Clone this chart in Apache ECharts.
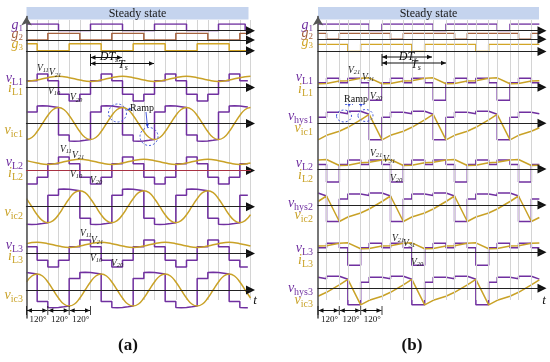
<!DOCTYPE html>
<html><head><meta charset="utf-8">
<script src="https://cdn.jsdelivr.net/npm/echarts@6/dist/echarts.min.js"></script>
<style>html,body{margin:0;padding:0;background:#fff}#c{width:550px;height:362px}</style>
</head><body><div id="c"></div>
<script>
// ---------- time bases (electrical degrees) ----------
const T30=[0,30,60,90,120,150,180,210,240,270,300,330,360,390,420,450,480,510,540,570,600,630,660,690,720,750,780,810,840,870,900,930,960,990,1020,1050,1080,1110,1140,1170,1200,1230,1260];
const T60=[0,60,120,180,240,300,360,420,480,540,600,660,720,780,840,900,960,1020,1080,1140,1200,1260];

// ---------- panel (a) ----------
const aG1=[[0,1],[180,0],[360,1],[540,0],[720,1],[900,0],[1080,1],[1230,0],[1245,0]];
const aG2=[[0,0],[120,1],[300,0],[480,1],[660,0],[840,1],[1020,0],[1200,1],[1245,1]];
const aG3=[[0,1],[60,0],[240,1],[420,0],[600,1],[780,0],[960,1],[1140,0],[1245,0]];
const aVL1=[[0,1],[60,2],[120,1],[180,-1],[240,-2],[300,-1],[360,1],[420,2],[480,1],[540,-1],[600,-2],[660,-1],[720,1],[780,2],[840,1],[900,-1],[960,-2],[1020,-1],[1080,1],[1140,2],[1200,1],[1245,1]];
const aVL2=[[0,-2],[60,-1],[120,1],[180,2],[240,1],[300,-1],[360,-2],[420,-1],[480,1],[540,2],[600,1],[660,-1],[720,-2],[780,-1],[840,1],[900,2],[960,1],[1020,-1],[1080,-2],[1140,-1],[1200,1],[1245,1]];
const aVL3=[[0,1],[60,-1],[120,-2],[180,-1],[240,1],[300,2],[360,1],[420,-1],[480,-2],[540,-1],[600,1],[660,2],[720,1],[780,-1],[840,-2],[900,-1],[960,1],[1020,2],[1080,1],[1140,-1],[1200,-2],[1245,-2]];
const aIL1=[0.9,1.1,1.45,1.65,1.45,1.1,0.9,1.1,1.45,1.65,1.45,1.1,0.9,1.1,1.45,1.65,1.45,1.1,0.9,1.1,1.45,1.65];
const aIL2=[1.45,1.1,0.9,1.1,1.45,1.65,1.45,1.1,0.9,1.1,1.45,1.65,1.45,1.1,0.9,1.1,1.45,1.65,1.45,1.1,0.9,1.1];
const aIL3=[1.45,1.65,1.45,1.1,0.9,1.1,1.45,1.65,1.45,1.1,0.9,1.1,1.45,1.65,1.45,1.1,0.9,1.1,1.45,1.65,1.45,1.1];
const aVic1=[-1.6,-1.4,-0.8,0,0.8,1.4,1.6,1.4,0.8,0,-0.8,-1.4,-1.6,-1.4,-0.8,0,0.8,1.4,1.6,1.4,0.8,0,-0.8,-1.4,-1.6,-1.4,-0.8,0,0.8,1.4,1.6,1.4,0.8,0,-0.8,-1.4,-1.6,-1.4,-0.8,0,0.8,1.4,1.6];
const aVic2=[0.8,0,-0.8,-1.4,-1.6,-1.4,-0.8,0,0.8,1.4,1.6,1.4,0.8,0,-0.8,-1.4,-1.6,-1.4,-0.8,0,0.8,1.4,1.6,1.4,0.8,0,-0.8,-1.4,-1.6,-1.4,-0.8,0,0.8,1.4,1.6,1.4,0.8,0,-0.8,-1.4,-1.6,-1.4,-0.8];
const aVic3=[0.8,1.4,1.6,1.4,0.8,0,-0.8,-1.4,-1.6,-1.4,-0.8,0,0.8,1.4,1.6,1.4,0.8,0,-0.8,-1.4,-1.6,-1.4,-0.8,0,0.8,1.4,1.6,1.4,0.8,0,-0.8,-1.4,-1.6,-1.4,-0.8,0,0.8,1.4,1.6,1.4,0.8,0,-0.8];
const aVp1=[[0,1.15],[60,1.15],[60,1.75],[90,1.78],[120,1.75],[150,1.68],[180,1.6],[180,-1.15],[240,-1.15],[240,-1.75],[270,-1.78],[300,-1.75],[330,-1.68],[360,-1.6],
[360,1.15],[420,1.15],[420,1.75],[450,1.78],[480,1.75],[510,1.68],[540,1.6],[540,-1.15],[600,-1.15],[600,-1.75],[630,-1.78],[660,-1.75],[690,-1.68],[720,-1.6],
[720,1.15],[780,1.15],[780,1.75],[810,1.78],[840,1.75],[870,1.68],[900,1.6],[900,-1.15],[960,-1.15],[960,-1.75],[990,-1.78],[1020,-1.75],[1050,-1.68],[1080,-1.6],
[1080,1.15],[1140,1.15],[1140,1.75],[1170,1.78],[1200,1.75],[1230,1.68],[1245,1.64]];
const aVp2=[[0,-1.75],[30,-1.78],[60,-1.75],[90,-1.68],[120,-1.6],[120,1.15],[180,1.15],[180,1.75],[210,1.78],[240,1.75],[270,1.68],[300,1.6],[300,-1.15],[360,-1.15],
[360,-1.75],[390,-1.78],[420,-1.75],[450,-1.68],[480,-1.6],[480,1.15],[540,1.15],[540,1.75],[570,1.78],[600,1.75],[630,1.68],[660,1.6],[660,-1.15],[720,-1.15],
[720,-1.75],[750,-1.78],[780,-1.75],[810,-1.68],[840,-1.6],[840,1.15],[900,1.15],[900,1.75],[930,1.78],[960,1.75],[990,1.68],[1020,1.6],[1020,-1.15],[1080,-1.15],
[1080,-1.75],[1110,-1.78],[1140,-1.75],[1170,-1.68],[1200,-1.6],[1200,1.15],[1245,1.15]];
const aVp3=[[0,1.75],[30,1.68],[60,1.6],[60,-1.15],[120,-1.15],[120,-1.75],[150,-1.78],[180,-1.75],[210,-1.68],[240,-1.6],[240,1.15],[300,1.15],[300,1.75],[330,1.78],
[360,1.75],[390,1.68],[420,1.6],[420,-1.15],[480,-1.15],[480,-1.75],[510,-1.78],[540,-1.75],[570,-1.68],[600,-1.6],[600,1.15],[660,1.15],[660,1.75],[690,1.78],
[720,1.75],[750,1.68],[780,1.6],[780,-1.15],[840,-1.15],[840,-1.75],[870,-1.78],[900,-1.75],[930,-1.68],[960,-1.6],[960,1.15],[1020,1.15],[1020,1.75],[1050,1.78],
[1080,1.75],[1110,1.68],[1140,1.6],[1140,-1.15],[1200,-1.15],[1200,-1.75],[1230,-1.78],[1245,-1.77]];

// ---------- panel (b) ----------
const bG1=[[0,1],[288,0],[360,1],[648,0],[720,1],[1008,0],[1080,1],[1245,1]];
const bG2=[[0,1],[48,0],[120,1],[408,0],[480,1],[768,0],[840,1],[1128,0],[1200,1],[1245,1]];
const bG3=[[0,1],[168,0],[240,1],[528,0],[600,1],[888,0],[960,1],[1245,1]];
const bVL1=[[0,0.65],[48,1.3],[120,0.65],[168,1.3],[240,0.65],[288,-1.85],[360,0.65],[408,1.3],[480,0.65],[528,1.3],[600,0.65],[648,-1.85],[720,0.65],[768,1.3],[840,0.65],[888,1.3],[960,0.65],[1008,-1.85],[1080,0.65],[1128,1.3],[1200,0.65],[1245,0.65]];
const bVL2=[[0,0.65],[48,-1.85],[120,0.65],[168,1.3],[240,0.65],[288,1.3],[360,0.65],[408,-1.85],[480,0.65],[528,1.3],[600,0.65],[648,1.3],[720,0.65],[768,-1.85],[840,0.65],[888,1.3],[960,0.65],[1008,1.3],[1080,0.65],[1128,-1.85],[1200,0.65],[1245,0.65]];
const bVL3=[[0,0.65],[48,1.3],[120,0.65],[168,-1.85],[240,0.65],[288,1.3],[360,0.65],[408,1.3],[480,0.65],[528,-1.85],[600,0.65],[648,1.3],[720,0.65],[768,1.3],[840,0.65],[888,-1.85],[960,0.65],[1008,1.3],[1080,0.65],[1128,1.3],[1200,0.65],[1245,0.65]];
const bIL1=[[0,0.5],[48,0.55],[120,0.9],[168,0.95],[240,1.3],[288,1.35],[360,0.5],[408,0.55],[480,0.9],[528,0.95],[600,1.3],[648,1.35],[720,0.5],[768,0.55],[840,0.9],[888,0.95],[960,1.3],[1008,1.35],[1080,0.5],[1128,0.55],[1200,0.9],[1245,0.93]];
const bIL2=[[0,1.3],[48,1.35],[120,0.5],[168,0.55],[240,0.9],[288,0.95],[360,1.3],[408,1.35],[480,0.5],[528,0.55],[600,0.9],[648,0.95],[720,1.3],[768,1.35],[840,0.5],[888,0.55],[960,0.9],[1008,0.95],[1080,1.3],[1128,1.35],[1200,0.5],[1245,0.53]];
const bIL3=[[0,0.9],[48,0.95],[120,1.3],[168,1.35],[240,0.5],[288,0.55],[360,0.9],[408,0.95],[480,1.3],[528,1.35],[600,0.5],[648,0.55],[720,0.9],[768,0.95],[840,1.3],[888,1.35],[960,0.5],[1008,0.55],[1080,0.9],[1128,0.95],[1200,1.3],[1245,1.33]];
const bVhys1=[[0,0.6],[48,0.6],[48,1.1],[120,1.1],[168,0.95],[168,1.2],[240,1.2],[288,0.9],[288,-1.65],[360,-1.65],
[360,0.6],[408,0.6],[408,1.1],[480,1.1],[528,0.95],[528,1.2],[600,1.2],[648,0.9],[648,-1.65],[720,-1.65],
[720,0.6],[768,0.6],[768,1.1],[840,1.1],[888,0.95],[888,1.2],[960,1.2],[1008,0.9],[1008,-1.65],[1080,-1.65],
[1080,0.6],[1128,0.6],[1128,1.1],[1200,1.1],[1245,0.96]];
const bVhys2=[[0,1.2],[48,0.9],[48,-1.65],[120,-1.65],[120,0.6],[168,0.6],[168,1.1],[240,1.1],[288,0.95],[288,1.2],[360,1.2],[408,0.9],[408,-1.65],[480,-1.65],
[480,0.6],[528,0.6],[528,1.1],[600,1.1],[648,0.95],[648,1.2],[720,1.2],[768,0.9],[768,-1.65],[840,-1.65],
[840,0.6],[888,0.6],[888,1.1],[960,1.1],[1008,0.95],[1008,1.2],[1080,1.2],[1128,0.9],[1128,-1.65],[1200,-1.65],[1200,0.6],[1245,0.6]];
const bVhys3=[[0,1.1],[48,0.95],[48,1.2],[120,1.2],[168,0.9],[168,-1.65],[240,-1.65],[240,0.6],[288,0.6],[288,1.1],
[360,1.1],[408,0.95],[408,1.2],[480,1.2],[528,0.9],[528,-1.65],[600,-1.65],[600,0.6],[648,0.6],[648,1.1],
[720,1.1],[768,0.95],[768,1.2],[840,1.2],[888,0.9],[888,-1.65],[960,-1.65],[960,0.6],[1008,0.6],[1008,1.1],
[1080,1.1],[1128,0.95],[1128,1.2],[1200,1.2],[1245,0.92]];
const bVic1=[[0,-1.65],[48,-1.2],[120,-0.8],[168,-0.4],[240,0.35],[288,0.9],[360,-1.65],[408,-1.2],[480,-0.8],[528,-0.4],[600,0.35],[648,0.9],[720,-1.65],[768,-1.2],[840,-0.8],[888,-0.4],[960,0.35],[1008,0.9],[1080,-1.65],[1128,-1.2],[1200,-0.8],[1245,-0.45]];
const bVic2=[[0,0.35],[48,0.9],[120,-1.65],[168,-1.2],[240,-0.8],[288,-0.4],[360,0.35],[408,0.9],[480,-1.65],[528,-1.2],[600,-0.8],[648,-0.4],[720,0.35],[768,0.9],[840,-1.65],[888,-1.2],[960,-0.8],[1008,-0.4],[1080,0.35],[1128,0.9],[1200,-1.65],[1245,-1.25]];
const bVic3=[[0,-0.8],[48,-0.4],[120,0.35],[168,0.9],[240,-1.65],[288,-1.2],[360,-0.8],[408,-0.4],[480,0.35],[528,0.9],[600,-1.65],[648,-1.2],[720,-0.8],[768,-0.4],[840,0.35],[888,0.9],[960,-1.65],[1008,-1.2],[1080,-0.8],[1128,-0.4],[1200,0.35],[1245,0.85]];
const bGridLines=[48,120,168,240,288,360,408,480,528,600,648,720,768,840,888,960,1008,1080,1128,1200];
const angleLabels=['120°','120°','120°'];

// ---------- styles ----------
const F="'Liberation Serif','DejaVu Serif',serif";
const PUR='#7030a0', GLD='#c9a227', BRN='#a5623e', G3C='#d2a526';
const W=224, XMAX=1260;
const ARROW='path://M0,0L10,5L0,10Z';

const grid=[],xAxis=[],yAxis=[],series=[];
function addGrid(left,top,height,min,max,axisColor){
  const i=grid.length;
  grid.push({left:left,top:top,width:W,height:height});
  xAxis.push({gridIndex:i,type:'value',min:0,max:XMAX,z:20,
    axisLine:{show:true,onZero:true,lineStyle:{color:axisColor||'#222',width:1.2}},
    axisTick:{show:false},axisLabel:{show:false},splitLine:{show:false}});
  yAxis.push({gridIndex:i,type:'value',min:min,max:max,show:false});
  // arrow head at the end of the time axis
  series.push({type:'line',xAxisIndex:i,yAxisIndex:i,data:[[0,0]],symbol:'none',lineStyle:{opacity:0},silent:true,animation:false,z:30,
    markPoint:{silent:true,animation:false,symbol:ARROW,symbolSize:[9,9],label:{show:false},itemStyle:{color:'#111'},
      data:[{coord:[XMAX,0]}]}});
  return i;
}
function ln(gi,data,color,opt){
  opt=opt||{};
  series.push({type:'line',xAxisIndex:gi,yAxisIndex:gi,data:data,symbol:'none',showSymbol:false,
    step:opt.step||false,smooth:opt.smooth||false,animation:false,silent:true,z:opt.z||3,
    lineStyle:{color:color,width:opt.w||1.5}});
}
function zip(t,v){return v.map((y,i)=>[t[i],y]);}

// frame grids
const LA=26.5, LB=318;
[LA,LB].forEach((L,k)=>{
  const i=grid.length;
  grid.push({left:L,top:20,width:W,height:280});
  xAxis.push({gridIndex:i,type:'value',min:0,max:XMAX,interval:60,axisLine:{show:false},axisTick:{show:false},axisLabel:{show:false},
    splitLine:{show:k===0,lineStyle:{color:'#d4d4d4',width:1}}});
  yAxis.push({gridIndex:i,type:'value',min:0,max:1,show:false});
  if(k===1){
    series.push({type:'line',xAxisIndex:i,yAxisIndex:i,data:[[0,0]],symbol:'none',lineStyle:{opacity:0},silent:true,animation:false,
      markLine:{silent:true,symbol:'none',animation:false,label:{show:false},lineStyle:{color:'#d4d4d4',width:1,type:'solid'},
        data:bGridLines.map(v=>({xAxis:v}))}});
  }
  const j=grid.length;
  grid.push({left:L,top:16.5,width:W,height:301.5});
  xAxis.push({gridIndex:j,type:'value',min:0,max:XMAX,show:false});
  yAxis.push({gridIndex:j,type:'value',min:0,max:1,z:20,axisLine:{show:true,symbol:['none','arrow'],symbolSize:[8,9],lineStyle:{color:'#555',width:1.6}},
    axisTick:{show:false},axisLabel:{show:false},splitLine:{show:false}});
});

// panel (a)
let g;
g=addGrid(LA,24,6.7,0,1); ln(g,aG1,PUR,{step:'end'});
g=addGrid(LA,33.3,6.7,0,1); ln(g,aG2,BRN,{step:'end'});
g=addGrid(LA,43.8,7,0,1); ln(g,aG3,G3C,{step:'end'});
const U=6.8;
g=addGrid(LA,87.5-2.4*U,4.8*U,-2.4,2.4); ln(g,aVL1,PUR,{step:'end'}); ln(g,zip(T60,aIL1),GLD,{smooth:true,z:4});
g=addGrid(LA,123.5-22,44,-2.2,2.2); ln(g,aVp1,PUR); ln(g,zip(T30,aVic1),GLD,{smooth:true,z:4});
g=addGrid(LA,170.5-2.4*U,4.8*U,-2.4,2.4,'#a83242'); ln(g,aVL2,PUR,{step:'end'}); ln(g,zip(T60,aIL2),GLD,{smooth:true,z:4});
g=addGrid(LA,206.7-22,44,-2.2,2.2); ln(g,aVp2,PUR); ln(g,zip(T30,aVic2),GLD,{smooth:true,z:4});
g=addGrid(LA,253.5-2.4*U,4.8*U,-2.4,2.4); ln(g,aVL3,PUR,{step:'end'}); ln(g,zip(T60,aIL3),GLD,{smooth:true,z:4});
g=addGrid(LA,290-22,44,-2.2,2.2); ln(g,aVp3,PUR); ln(g,zip(T30,aVic3),GLD,{smooth:true,z:4});

// panel (b)
g=addGrid(LB,24,6.7,0,1); ln(g,bG1,PUR,{step:'end'});
g=addGrid(LB,33.3,6,0,1); ln(g,bG2,BRN,{step:'end'});
g=addGrid(LB,44.3,7.3,0,1); ln(g,bG3,G3C,{step:'end'});
const V=7;
g=addGrid(LB,87.3-2.4*V,4.8*V,-2.4,2.4); ln(g,bVL1,PUR,{step:'end'}); ln(g,bIL1,GLD,{z:4});
g=addGrid(LB,123.3-22,44,-2.2,2.2); ln(g,bVhys1,PUR); ln(g,bVic1,GLD,{z:4});
g=addGrid(LB,169-2.4*V,4.8*V,-2.4,2.4); ln(g,bVL2,PUR,{step:'end'}); ln(g,bIL2,GLD,{z:4});
g=addGrid(LB,205-22,44,-2.2,2.2); ln(g,bVhys2,PUR); ln(g,bVic2,GLD,{z:4});
g=addGrid(LB,252.3-2.4*V,4.8*V,-2.4,2.4); ln(g,bVL3,PUR,{step:'end'}); ln(g,bIL3,GLD,{z:4});
g=addGrid(LB,288.3-22,44,-2.2,2.2); ln(g,bVhys3,PUR); ln(g,bVic3,GLD,{z:4});

// ---------- annotations ----------
const G=[];
function rich(main,sub,color,size,sub2,italSub){
  return {m:{fontFamily:F,fontStyle:'italic',fontSize:size,fill:color,color:color,lineHeight:size,verticalAlign:'top'},
          s:{fontFamily:F,fontStyle:italSub?'italic':'normal',fontSize:sub2,fill:color,color:color,lineHeight:sub2,padding:[Math.round(size*0.45),0,0,0],verticalAlign:'top'}};
}
function lbl(x,y,main,sub,color,size,sub2,align,italSub){
  G.push({type:'text',x:x,y:y,z:100,style:{text:'{m|'+main+'}{s|'+sub+'}',rich:rich(main,sub,color,size,sub2,italSub),
    align:align||'right',textAlign:align||'right',verticalAlign:'middle',textVerticalAlign:'middle'}});
}
function txt(x,y,s,size,opt){
  opt=opt||{};
  G.push({type:'text',x:x,y:y,z:100,style:{text:s,fontFamily:F,fontSize:size,fontStyle:opt.italic?'italic':'normal',fontWeight:opt.bold?'bold':'normal',
    fill:opt.color||'#111',align:opt.align||'center',textAlign:opt.align||'center',verticalAlign:'middle',textVerticalAlign:'middle'}});
}
function seg(x1,y1,x2,y2,c,w,dash){G.push({type:'line',z:90,shape:{x1:x1,y1:y1,x2:x2,y2:y2},style:{stroke:c||'#111',lineWidth:w||1,lineDash:dash||null}});}
function head(x,y,dx,dy,c,s){
  s=s||5; const px=-dy, py=dx;
  G.push({type:'polygon',z:91,shape:{points:[[x,y],[x-dx*s+px*s*0.45,y-dy*s+py*s*0.45],[x-dx*s-px*s*0.45,y-dy*s-py*s*0.45]]},style:{fill:c||'#111'}});
}
function harrow(x1,x2,y){seg(x1,y,x2,y,'#111',1); head(x1,y,-1,0,'#111',5); head(x2,y,1,0,'#111',5);}

// steady state bars
[[LA,222],[LB,221]].forEach(([x,w])=>{
  G.push({type:'rect',z:-1,shape:{x:x,y:7,width:w,height:12.5},style:{fill:'#c5d4ee'}});
  txt(x+w/2,13.5,'Steady state',12,{color:'#1a1a1a'});
});

// left labels (a)
const XA=23;
lbl(XA,25,'g','1',PUR,14,9); lbl(XA,34.5,'g','2',BRN,14,9); lbl(XA,44,'g','3',G3C,14,9);
lbl(XA,78,'v','L1',PUR,14,10); lbl(XA,88.5,'i','L1',GLD,14,10);
lbl(XA,130,'v','ic1',GLD,14,10);
lbl(XA,162,'v','L2',PUR,14,10); lbl(XA,173,'i','L2',GLD,14,10);
lbl(XA,212,'v','ic2',GLD,14,10);
lbl(XA,245,'v','L3',PUR,14,10); lbl(XA,256,'i','L3',GLD,14,10);
lbl(XA,295,'v','ic3',GLD,14,10);
// left labels (b)
const XB=313;
lbl(XB,25,'g','1',PUR,14,9); lbl(XB,33.5,'g','2',BRN,14,9); lbl(XB,42.5,'g','3',G3C,14,9);
lbl(XB,77,'v','L1',PUR,14,10); lbl(XB,89.5,'i','L1',GLD,14,10);
lbl(XB,116.5,'v','hys1',PUR,14,10); lbl(XB,128.5,'v','ic1',GLD,14,10);
lbl(XB,163,'v','L2',PUR,14,10); lbl(XB,175,'i','L2',GLD,14,10);
lbl(XB,203,'v','hys2',PUR,14,10); lbl(XB,215,'v','ic2',GLD,14,10);
lbl(XB,248,'v','L3',PUR,14,10); lbl(XB,260,'i','L3',GLD,14,10);
lbl(XB,288,'v','hys3',PUR,14,10); lbl(XB,300,'v','ic3',GLD,14,10);

// level labels
function vl(x,y,s){lbl(x,y,'V',s,'#222',9.5,6.5,'left',true);}
vl(37,68,'11'); vl(49,72.5,'21'); vl(48,91,'10'); vl(70,97.5,'20');
vl(60,149,'11'); vl(72,155,'21'); vl(70,174,'10'); vl(90,180,'20');
vl(80,233,'11'); vl(91,240,'21'); vl(90,258,'10'); vl(111,263,'20');
vl(348,70,'21'); vl(362,77,'31'); vl(370,96,'20');
vl(370,153,'21'); vl(383,159,'31'); vl(390,178,'20');
vl(392,238,'21'); vl(403,243,'31'); vl(411,262,'20');

// DTs / Ts
seg(90.5,54,90.5,66); harrow(90.5,122,57.5); harrow(90.5,154,63.5);
lbl(109,57,'DT','s','#111',12,8,'center',true); lbl(123,65,'T','s','#111',12,8,'center',true);
seg(382,54,382,66); harrow(382,432,57); harrow(382,446,63);
lbl(408,57,'DT','s','#111',12,8,'center',true); lbl(416,65,'T','s','#111',12,8,'center',true);

// 120 deg arrows
[[26.5,47.8,69.2,90.5],[318,339.3,360.7,382]].forEach(p=>{
  p.forEach(x=>seg(x,306,x,315,'#111',0.8));
  for(let k=0;k<3;k++){harrow(p[k]+0.5,p[k+1]-0.5,310.5); txt((p[k]+p[k+1])/2+1,320,angleLabels[k],9);}
});

// t labels and panel captions
txt(255,301,'t',13,{italic:true}); txt(544,301,'t',13,{italic:true});
txt(128,346,'(a)',17,{bold:true}); txt(412,346,'(b)',17,{bold:true});

// Ramp (a)
const BL='#2f46d6';
G.push({type:'circle',z:92,shape:{cx:117.5,cy:113,r:9},style:{fill:'none',stroke:BL,lineWidth:0.9,lineDash:[2,2]}});
G.push({type:'circle',z:92,shape:{cx:149,cy:136.5,r:9},style:{fill:'none',stroke:BL,lineWidth:0.9,lineDash:[2,2]}});
txt(142,108,'Ramp',10);
seg(131,108.5,127.5,110,BL,0.9); head(127,110.2,-0.93,0.37,BL,3.5);
seg(146,112,147.5,127,BL,0.9); head(147.6,127.5,0.1,1,BL,3.5);
// Ramp (b)
G.push({type:'ellipse',z:92,shape:{cx:344,cy:116,rx:7.5,ry:6},style:{fill:'none',stroke:BL,lineWidth:0.9,lineDash:[2,2]}});
G.push({type:'ellipse',z:92,shape:{cx:365.5,cy:115.5,rx:7.5,ry:6},style:{fill:'none',stroke:BL,lineWidth:0.9,lineDash:[2,2]}});
txt(356,99.5,'Ramp',10);
seg(345,104.5,353,104.5,BL,0.8,[2,1.5]); head(349,107,0,1,BL,3);
seg(359,104.5,366,104.5,BL,0.8,[2,1.5]); head(361,107,0,1,BL,3);

const chart=echarts.init(document.getElementById('c'),null,{renderer:'canvas'});
chart.setOption({animation:false,backgroundColor:'#fff',grid:grid,xAxis:xAxis,yAxis:yAxis,series:series,graphic:{elements:G}});
</script></body></html>
